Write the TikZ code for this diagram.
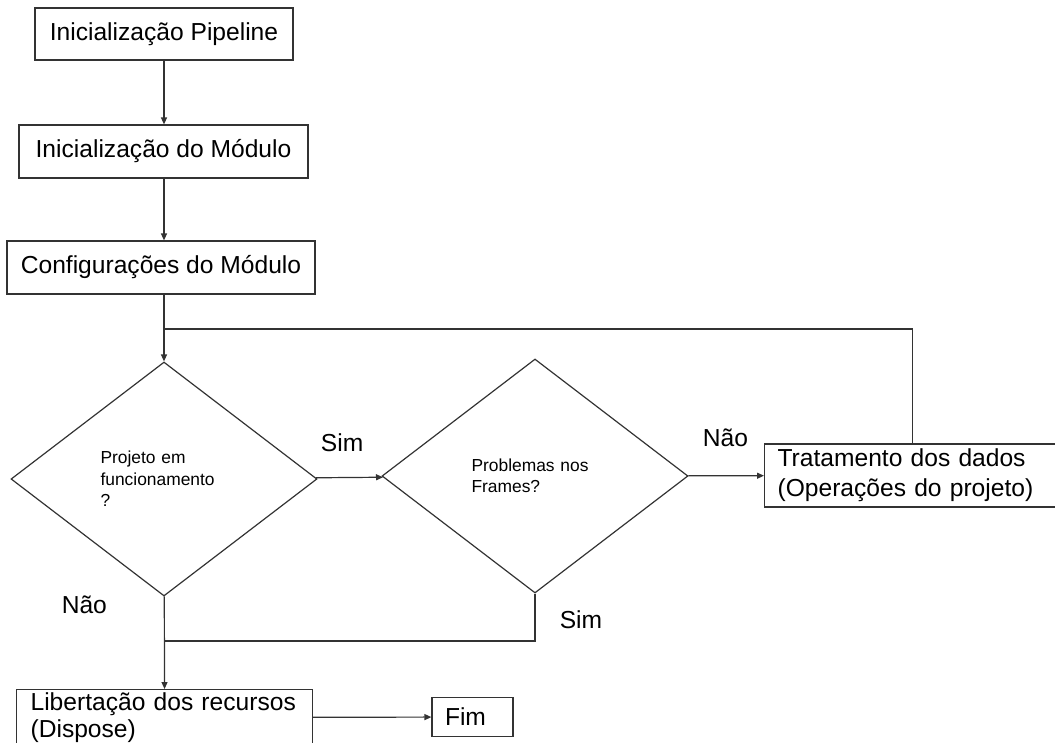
\documentclass[tikz,border=0pt]{standalone}
\usepackage{fontspec}
\setmainfont{Liberation Sans}
\usetikzlibrary{shapes.geometric, arrows.meta, positioning, calc}

\begin{document}
\begin{tikzpicture}[
      x=1pt, y=-1pt,
      proc/.style={rectangle, draw=black!80, line width=1.2pt, inner sep=0pt, font=\fontsize{24.6}{30}\selectfont},
      dec/.style={diamond, draw=black!80, line width=1.2pt, inner sep=0pt, text width=127pt, align=left, minimum width=306pt, minimum height=234pt, font=\fontsize{17.4}{21.5}\selectfont},
      lbl/.style={font=\fontsize{24.6}{30}\selectfont, inner sep=0pt},
      arrow/.style={-{Triangle[length=7pt, width=6pt]}, line width=1.2pt, draw=black!80},
      link/.style={line width=1.2pt, draw=black!80}
    ]
    \useasboundingbox (0,0) rectangle (1055,742);

    \node[proc, minimum width=258pt, minimum height=52pt] (init) at (164,34) {Inicialização Pipeline};
    \node[proc, minimum width=289pt, minimum height=53pt] (mod) at (163.5,151.5) {Inicialização do Módulo};
    \node[proc, minimum width=308pt, minimum height=53pt] (cfg) at (161,267.5) {Configurações do Módulo};

    \node[dec] (run) at (164,479) {Projeto em\\funcionamento\\?};
    \node[dec] (frm) at (535,476) {Problemas nos\\Frames?};

    \node[proc, anchor=west, text width=270pt, inner xsep=13pt, minimum height=63pt, align=left] (trat) at (764,475.5) {Tratamento dos dados\\(Operações do projeto)};
    \node[proc, anchor=north west, text width=268pt, inner xsep=14pt, inner ysep=3pt, minimum height=55pt, align=left, font=\fontsize{24.6}{27}\selectfont] (disp) at (16,689) {Libertação dos recursos\\(Dispose)};
    \node[proc, text width=55pt, inner xsep=13pt, minimum height=39pt, align=left] (fim) at (472.5,717) {Fim};

    \coordinate (loop) at (164,329);
    \coordinate (merge) at (164,641);

    \draw[arrow] (init.south -| run.north) -- (mod.north -| run.north);
    \draw[arrow] (mod.south -| run.north) -- (cfg.north -| run.north);
    \draw[arrow] (cfg.south -| run.north) -- (run.north);
    \draw[link] (trat.north) |- (loop);

    \draw[arrow] (run) -- node[lbl, pos=0.39, yshift=35pt] {Sim} (frm);
    \draw[arrow] (frm) -- node[lbl, pos=0.49, yshift=38pt] {Não} (trat);
    \draw[arrow] (run) -- node[lbl, pos=0.09, xshift=-80pt] {Não} (disp);
    \draw[link] (frm) |- node[lbl, pos=0.27, xshift=46pt] {Sim} (merge);
    \draw[arrow] (disp) -- (fim);
  \end{tikzpicture}
\end{document}
